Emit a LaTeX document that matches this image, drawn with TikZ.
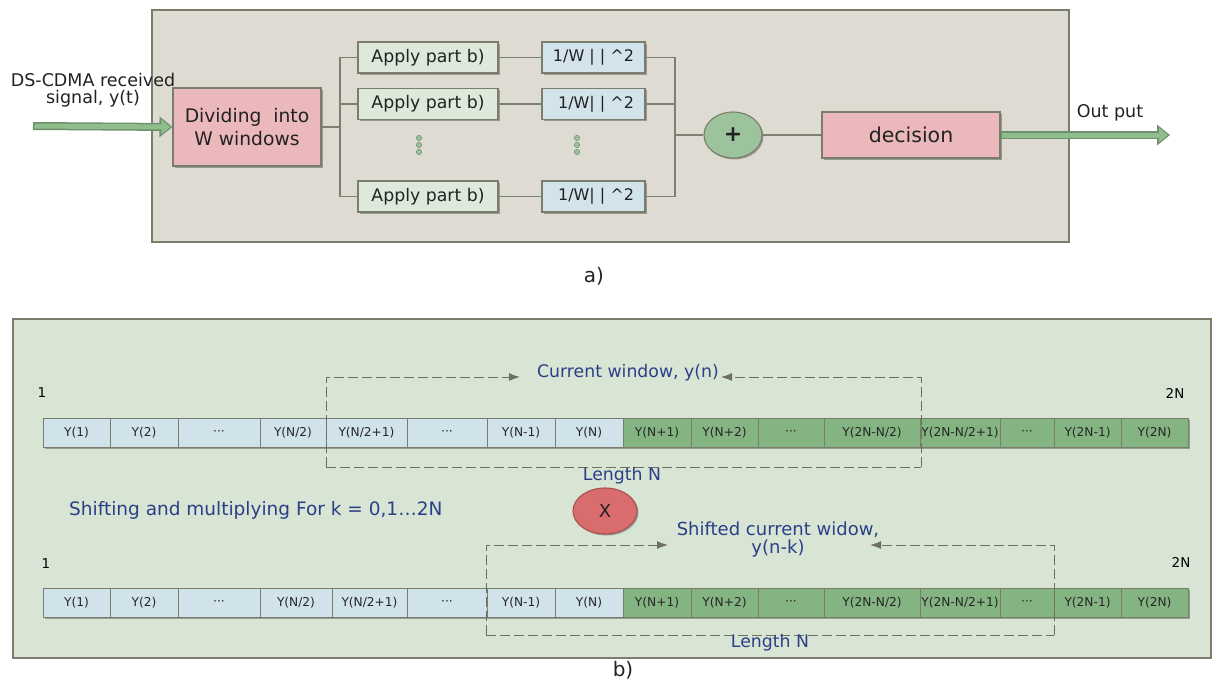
\documentclass[tikz,border=0pt]{standalone}
\usepackage{fontspec}
\setmainfont{DejaVu Sans}
\usetikzlibrary{arrows.meta,shapes.geometric,shadows,calc}
\definecolor{frameAc}{HTML}{DEDBD3}
\definecolor{frameBc}{HTML}{D8E5D5}
\definecolor{frameb}{HTML}{7A7D6A}
\definecolor{boxb}{HTML}{7A7D6A}
\definecolor{wirec}{HTML}{7D7F70}
\definecolor{pinkc}{HTML}{EBB8BB}
\definecolor{lgreen}{HTML}{DCE9DB}
\definecolor{lblue}{HTML}{D2E3EB}
\definecolor{plusc}{HTML}{9CC39B}
\definecolor{arrfill}{HTML}{8FBD8C}
\definecolor{arrdark}{HTML}{6E906C}
\definecolor{cb}{HTML}{D0E3EA}
\definecolor{cg}{HTML}{85B483}
\definecolor{redc}{HTML}{D96C6C}
\definecolor{redb}{HTML}{A85252}
\definecolor{bluet}{HTML}{2B3F87}
\definecolor{txt}{HTML}{222222}
\definecolor{dashc}{HTML}{6F6F5F}
\newcommand\cellrow[3]{%
  \foreach \a/\b/\t/\c [count=\i] in {43/110/{Y(1)}/cb, 110/178/{Y(2)}/cb, 178/260/{···}/cb, 260/#3/{Y(N/2)}/cb, #3/407/{Y(N/2+1)}/cb, 407/487/{···}/cb, 487/555/{Y(N-1)}/cb, 555/623/{Y(N)}/cb, 623/691/{Y(N+1)}/cg, 691/758/{Y(N+2)}/cg, 758/824/{···}/cg, 824/920/{Y(2N-N/2)}/cg, 920/1000/{Y(2N-N/2+1)}/cg, 1000/1054/{···}/cg, 1054/1121/{Y(2N-1)}/cg, 1121/1188/{Y(2N)}/cg}
    \node[cell, fill=\c, minimum width={(\b-\a)*1pt}] (#1c\i) at ({(\a+\b)/2},#2) {\t};
}
\begin{document}
\begin{tikzpicture}[x=1pt,y=-1pt,
  every node/.style={inner sep=0pt, text=txt},
  wire/.style={draw=wirec, line width=1.3pt},
  shad/.style={drop shadow={shadow xshift=1.5pt,shadow yshift=-1.5pt,opacity=0.3,fill=black}},
  box/.style={draw=boxb, line width=1.1pt, rectangle, shad},
  fa/.style={font=\fontsize{17.5}{20}\selectfont},
  cell/.style={draw=boxb, line width=0.9pt, rectangle, minimum height=29pt, font=\fontsize{12.2}{13}\selectfont, text=black!85, shad},
  lab/.style={font=\fontsize{17.3}{20}\selectfont, text=bluet},
  dashw/.style={draw=dashc, line width=1pt, dash pattern=on 10pt off 4pt},
  tipst/.style={-{Latex[length=11pt,width=8pt]}},
  dotst/.style={draw=arrdark, fill=plusc, line width=0.6pt}
]
\path[use as bounding box] (0,0) rectangle (1213,680);
\fill[white] (0,0) rectangle (1213,680);

% ---------- part a ----------
\node[draw=frameb, fill=frameAc, line width=1.3pt, minimum width=917pt, minimum height=232pt] (frameA) at (610.5,126) {};
\node[align=center, font=\fontsize{17.5}{17}\selectfont] (insig) at (93,90) {DS-CDMA received\\signal, y(t)};
\coordinate (in) at (33,126);
\node[box, fill=pinkc, minimum width=148pt, minimum height=78pt, align=center, font=\fontsize{18.7}{23}\selectfont] (divide) at (247,127) {Dividing\ \ into\\W windows};

\foreach \y [count=\i] in {57.5,104,196.5}{
  \node[box, fill=lgreen, minimum width=140pt, minimum height=31pt, font=\fontsize{17.3}{18}\selectfont] (ap\i) at (428,\y) {Apply part b)};
}
\node[box, fill=lblue, minimum width=103pt, minimum height=31pt, font=\fontsize{16}{17}\selectfont] (sq1) at (593.5,57.5) {1/W | | \^{}2};
\node[box, fill=lblue, minimum width=103pt, minimum height=31pt, font=\fontsize{16}{17}\selectfont] (sq2) at (593.5,104) {\ 1/W| | \^{}2};
\node[box, fill=lblue, minimum width=103pt, minimum height=31pt, font=\fontsize{16}{17}\selectfont] (sq3) at (593.5,196.5) {\ 1/W| | \^{}2};

\coordinate (dotsA) at (419,145);
\coordinate (dotsB) at (577,145);
\foreach \dy in {-7,0,7}{
  \draw[dotst] ($(dotsA)+(0,\dy)$) circle (2.6pt);
  \draw[dotst] ($(dotsB)+(0,\dy)$) circle (2.6pt);
}

\node[ellipse, draw=boxb, fill=plusc, line width=1.1pt, minimum width=58pt, minimum height=46pt, shad, font=\fontsize{22}{22}\selectfont\bfseries] (plus) at (733,135) {+};
\node[box, fill=pinkc, minimum width=178pt, minimum height=46pt, font=\fontsize{20.5}{22}\selectfont] (decision) at (911,135) {decision};
\node[fa] (outlbl) at (1110,113) {Out put};
\coordinate (out) at (1170,135);
\node[font=\fontsize{20}{22}\selectfont] (labA) at (594,276) {a)};

\coordinate (busL) at (340,127);
\coordinate (busR) at (675,135);
\draw[wire] (divide.east) -- (busL);
\draw[wire] (ap1.west) -| (busL) |- (ap3.west);
\draw[wire] (ap2.west) -- (ap2.west -| busL);
\foreach \i in {1,2,3} \draw[wire] (ap\i.east) -- (sq\i.west);
\draw[wire] (sq1.east) -| (busR) |- (sq3.east);
\draw[wire] (sq2.east) -- (sq2.east -| busR);
\draw[wire] (busR) -- (plus.west);
\draw[wire] (plus.east) -- (decision.west);

% thick arrows
\draw[draw=arrdark, line width=8pt, -{Triangle[length=13pt,width=20pt]}] (in) -- (divide.west);
\draw[draw=arrfill, line width=5pt, shorten <=1.5pt, shorten >=2pt, -{Triangle[length=9pt,width=14pt]}] (in) -- (divide.west);
\draw[draw=arrdark, line width=8pt, -{Triangle[length=13pt,width=20pt]}] (decision.east) -- (out);
\draw[draw=arrfill, line width=5pt, shorten <=1.5pt, shorten >=2pt, -{Triangle[length=9pt,width=14pt]}] (decision.east) -- (out);

% ---------- part b ----------
\node[draw=frameb, fill=frameBc, line width=1.3pt, minimum width=1198pt, minimum height=339pt] (frameB) at (612,488.5) {};
\node[font=\fontsize{13.5}{14}\selectfont, text=black] (one1) at (42,393) {1};
\node[font=\fontsize{13.5}{14}\selectfont, text=black] (twoN1) at (1175,393) {2N};
\cellrow{ra}{432.5}{326}

\coordinate (w1a) at (326,377);
\coordinate (w1b) at (921,377);
\coordinate (w1c) at (921,467);
\coordinate (w1d) at (326,467);
\coordinate (w1l) at (520,377);
\coordinate (w1r) at (721,377);
\draw[dashw] (w1d) -- (w1c);
\draw[dashw, tipst] (w1d) -- (w1a) -- (w1l);
\draw[dashw, tipst] (w1c) -- (w1b) -- (w1r);
\node[lab] (cw) at (628,373) {Current window, y(n)};
\node[lab] (len1) at (622,476) {Length N};

\node[ellipse, draw=redb, fill=redc, line width=1.1pt, minimum width=64pt, minimum height=46pt, shad, font=\fontsize{18}{18}\selectfont] (mult) at (605,511) {X};
\node[lab, anchor=west, font=\fontsize{18.5}{20}\selectfont] (shift) at (69,510) {Shifting and multiplying For k = 0,1…2N};

\node[font=\fontsize{13.5}{14}\selectfont, text=black] (one2) at (46,564) {1};
\node[font=\fontsize{13.5}{14}\selectfont, text=black] (twoN2) at (1181,562) {2N};
\cellrow{rb}{602.5}{332}

\coordinate (w2a) at (486,545);
\coordinate (w2b) at (1054,545);
\coordinate (w2c) at (1054,635);
\coordinate (w2d) at (486,635);
\coordinate (w2l) at (668,545);
\coordinate (w2r) at (870,545);
\draw[dashw] (w2d) -- (w2c);
\draw[dashw, tipst] (w2d) -- (w2a) -- (w2l);
\draw[dashw, tipst] (w2c) -- (w2b) -- (w2r);
\node[lab, align=center, font=\fontsize{18}{18}\selectfont] (scw) at (778,540) {Shifted current widow,\\y(n-k)};
\node[lab] (len2) at (770,643) {Length N};
\node[font=\fontsize{20}{22}\selectfont] (labB) at (623,670) {b)};
\end{tikzpicture}
\end{document}
